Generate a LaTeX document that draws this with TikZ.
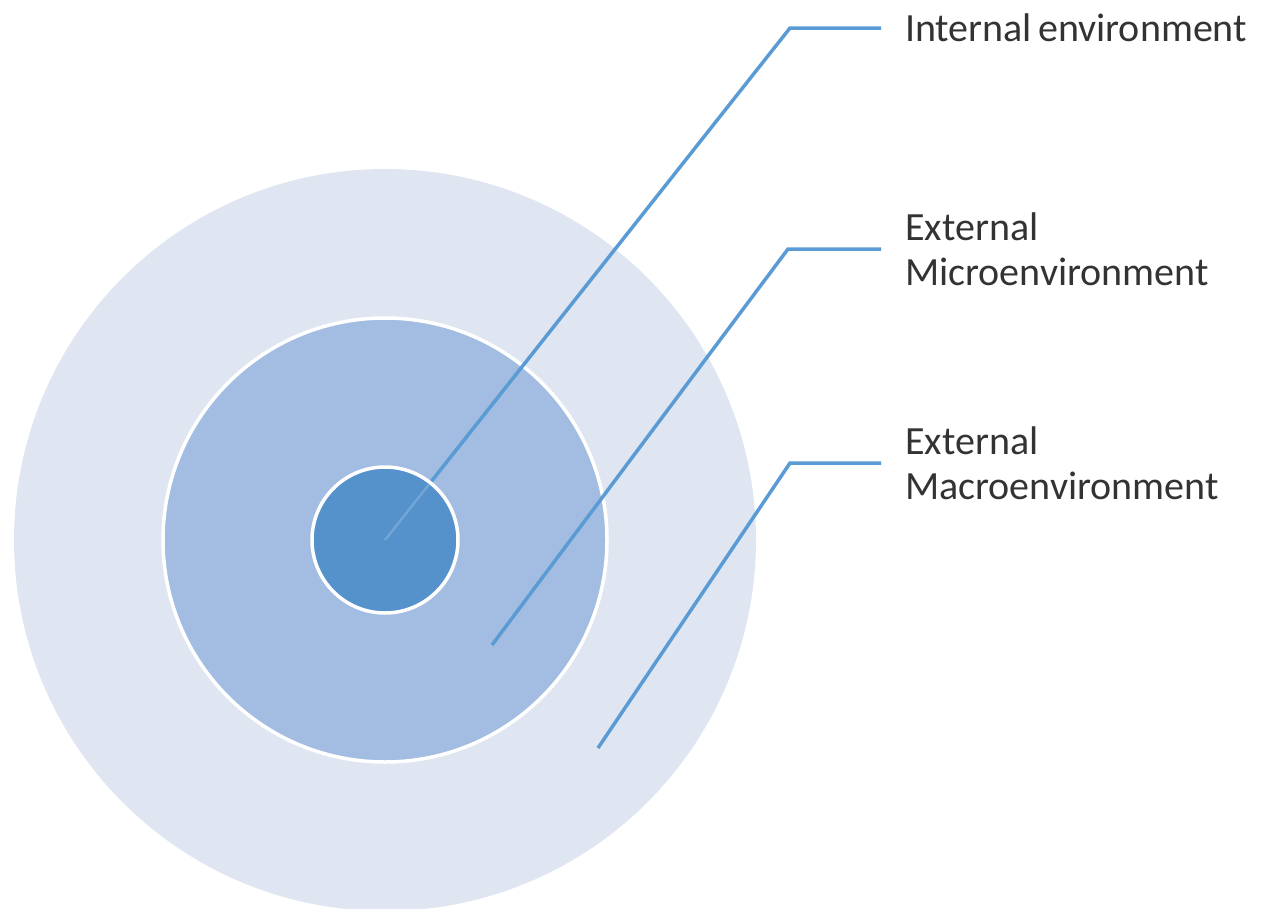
\documentclass[tikz,border=0pt]{standalone}
\usepackage{fontspec}
\setmainfont{Carlito}
\definecolor{outerc}{HTML}{DFE6F1}
\definecolor{midc}{HTML}{A2BDE1}
\definecolor{innerc}{HTML}{5592CB}
\definecolor{linec}{HTML}{5B9BD5}
\definecolor{txtc}{HTML}{333333}
\begin{document}
\begin{tikzpicture}[x=1pt,y=-1pt,
  ring/.style={draw=white,line width=3.5pt},
  leader/.style={draw=linec,line width=3.5pt,shorten >=24pt},
  lbl/.style={anchor=west,inner sep=0pt,text=txtc,align=left,
    font=\fontsize{40}{45}\selectfont}]
\useasboundingbox (0,0) rectangle (1269,908);
\clip (0,0) rectangle (1269,908);
\coordinate (c) at (385,540);
\fill[outerc] (c) circle (371);
\path[fill=midc,ring] (c) circle (222);
% labels
\node[lbl] (t1) at (905,28) {Internal\hspace{-3pt} environment};
\node[lbl] (t2) at (905,249) {External\\Microenvironment};
\node[lbl] (t3) at (905,463) {External\\Macroenvironment};
% leader corners and free ends
\coordinate (k1) at (790,28);
\coordinate (k2) at (788,249);
\coordinate (k3) at (790,463);
\coordinate (e2) at (492,645);
\coordinate (e3) at (598,748);
\draw[leader] (c) -- (k1) -- (t1.west);
\path[fill=innerc,ring] (c) circle (73);
\begin{scope}
  \clip (c) circle (71);
  \draw[draw=linec!70!white,line width=2.5pt,opacity=0.5] (c) -- (k1);
\end{scope}
\draw[leader] (e2) -- (k2) -- (t2.west);
\draw[leader] (e3) -- (k3) -- (t3.west);
\end{tikzpicture}
\end{document}
